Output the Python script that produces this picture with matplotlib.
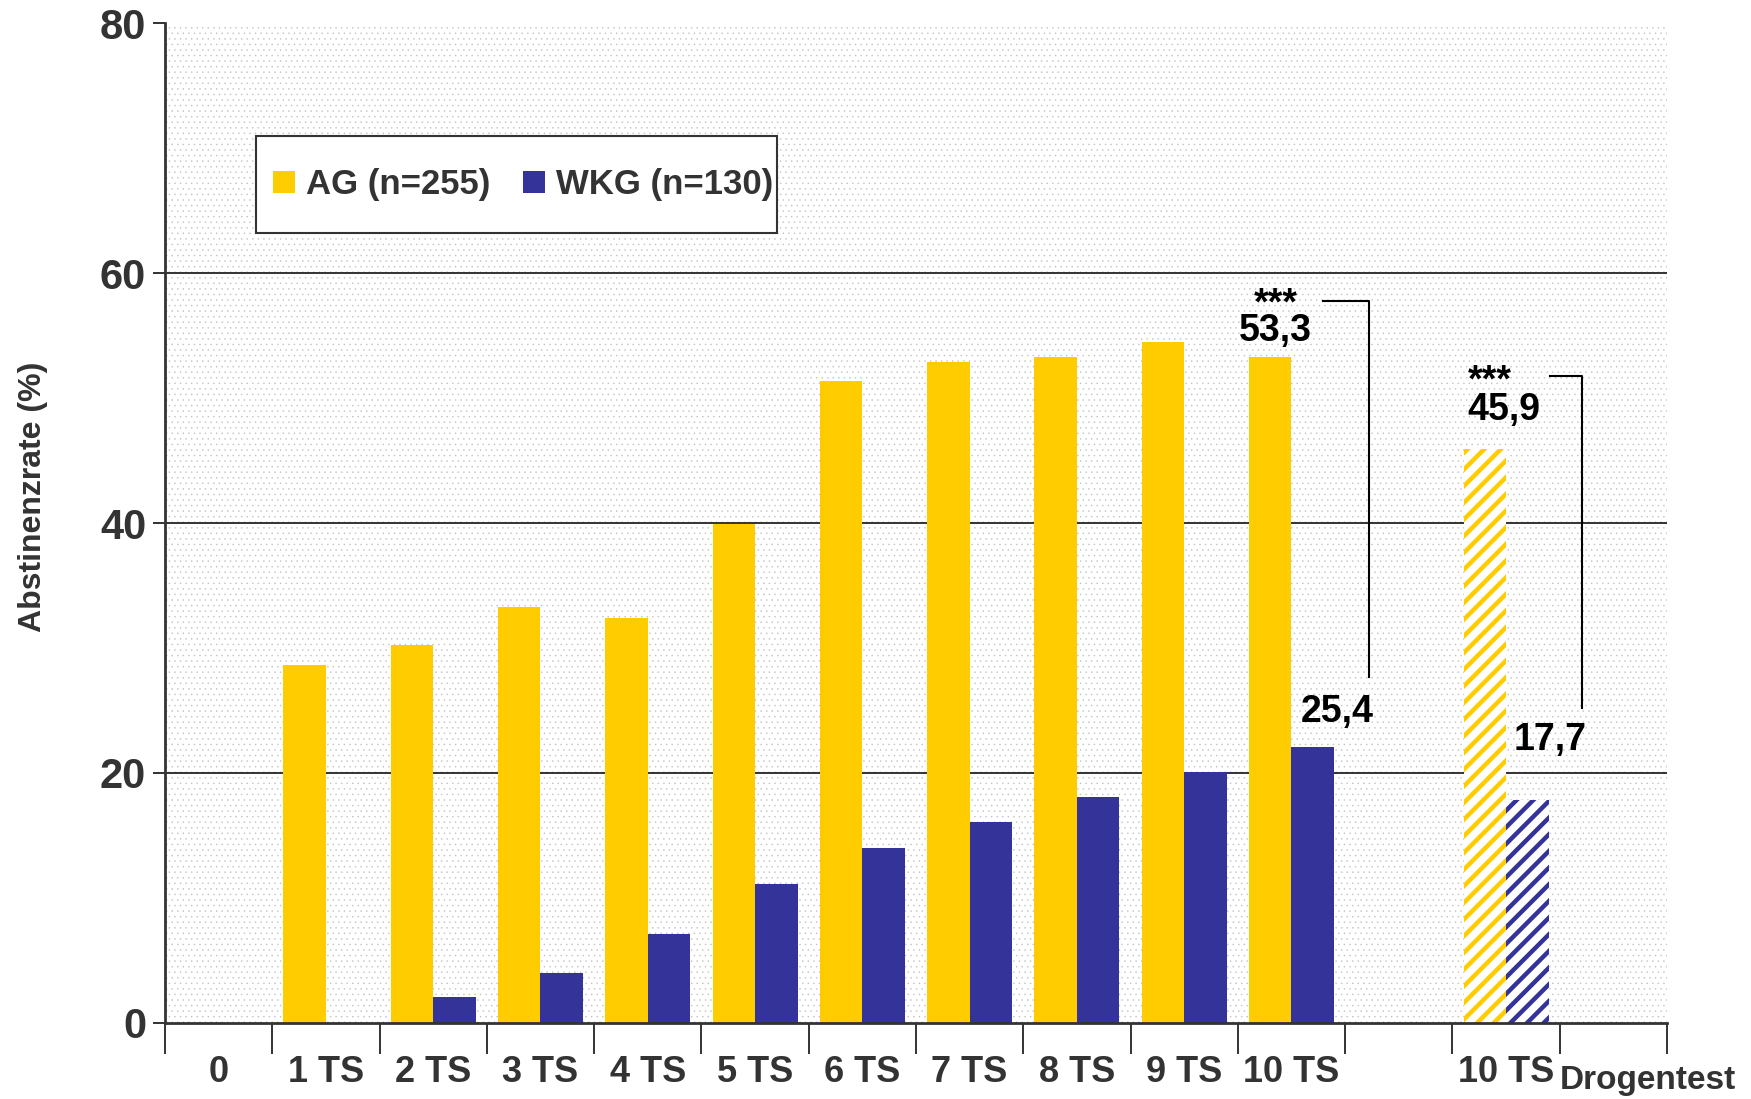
# -*- coding = utf-8 -*-
# Abstinenzrate AG vs. WKG nach Therapiesitzungen

import matplotlib.pyplot as plt
from matplotlib.patches import Patch, Rectangle

plt.rcParams['font.family'] = ['Liberation Sans', 'DejaVu Sans']
plt.rcParams['font.weight'] = 'bold'

# %% Daten

tick_labels = ['0', '1 TS', '2 TS', '3 TS', '4 TS', '5 TS', '6 TS', '7 TS',
               '8 TS', '9 TS', '10 TS', '', '10 TS', '']
sessions = [1, 2, 3, 4, 5, 6, 7, 8, 9, 10]
ag = [28.6, 30.2, 33.3, 32.4, 39.9, 51.4, 52.9, 53.3, 54.5, 53.3]
wkg = [0.0, 2.1, 4.0, 7.1, 11.1, 14.0, 16.1, 18.1, 20.1, 22.1]

# Drogentest nach 10 TS
drug_pos = 12
ag_drug = 45.9
wkg_drug = 17.8

legend_labels = ['AG (n=255)', 'WKG (n=130)']
yellow = '#FFCC00'
blue = '#333399'
dark = '#333333'

# %% Figur

fig = plt.figure(figsize=(17.51, 10.99), dpi=100)
ax = fig.add_axes([0.0942, 0.0692, 0.8578, 0.9098])

# gepunkteter Hintergrund
plt.rcParams['hatch.linewidth'] = 0.3
bg = Rectangle((0, 0), 1, 1, transform=ax.transAxes, facecolor='white',
               edgecolor='#c0c0c0', hatch='...', lw=0, zorder=0)
if hasattr(bg, 'set_hatch_linewidth'):
    bg.set_hatch_linewidth(0.3)
ax.add_patch(bg)

for y in [20, 40, 60]:
    ax.axhline(y, color=dark, lw=1.4, zorder=1)

w = 0.396
off = 0.198
ax.bar([s - off for s in sessions], ag, width=w, color=yellow, zorder=2)
ax.bar([s + off for s in sessions], wkg, width=w, color=blue, zorder=2)

plt.rcParams['hatch.linewidth'] = 3.2
hb = ax.bar([drug_pos - off, drug_pos + off], [ag_drug, wkg_drug], width=w,
            facecolor='white', edgecolor=[yellow, blue], hatch='//', lw=0,
            zorder=2)
for p in hb:
    if hasattr(p, 'set_hatch_linewidth'):
        p.set_hatch_linewidth(3.2)

# Werte und Signifikanz (Sterne + Wert in einem Text)
txt = dict(fontsize=27, fontweight='bold', color='black')
ax.text(9.85, 53.9, '***\n53,3', ha='center', va='bottom', linespacing=0.68, **txt)
ax.text(10.43, 24.9, '25,4', ha='center', va='center', **txt)
ax.plot([10.29, 10.72, 10.72], [57.8, 57.8, 27.7], color='black', lw=1.5, zorder=3)

ax.text(11.64, 47.6, '***\n45,9', ha='left', va='bottom', multialignment='left',
        linespacing=0.72, **txt)
ax.text(12.41, 22.6, '17,7', ha='center', va='center', **txt)
ax.plot([12.41, 12.71, 12.71], [51.8, 51.8, 25.2], color='black', lw=1.5, zorder=3)

# Achsen
ax.set_xlim(-0.5, 13.5)
ax.set_ylim(0, 80)
ax.set_yticks([0, 20, 40, 60, 80])
ax.set_yticklabels(['0', '20', '40', '60', '80'], fontsize=30, color=dark)
ax.set_xticks([i - 0.5 for i in range(15)])
ax.set_xticklabels([])
ax.set_xticks(list(range(14)), minor=True)
ax.set_xticklabels(tick_labels, minor=True, fontsize=26, color=dark)
ax.tick_params(axis='x', which='major', length=22, width=1.4, color=dark)
ax.tick_params(axis='x', which='minor', length=0, pad=23)
ax.tick_params(axis='y', length=8.5, width=1.4, color=dark, pad=5)
ax.text(12.5, -0.058, 'Drogentest', transform=ax.get_xaxis_transform(),
        fontsize=24, fontweight='bold', color=dark, ha='left', va='center')

for s in ['top', 'right']:
    ax.spines[s].set_visible(False)
for s in ['left', 'bottom']:
    ax.spines[s].set_color(dark)
    ax.spines[s].set_linewidth(2)

ax.set_ylabel('Abstinenzrate (%)', fontsize=23, fontweight='bold', color=dark)
ax.yaxis.set_label_coords(-0.078, 0.526)

# Legende mit eigenem Rahmen
frame = Rectangle((0.0606, 0.790), 0.3469, 0.097, transform=ax.transAxes,
                  facecolor='white', edgecolor=dark, lw=1.5, zorder=4)
ax.add_patch(frame)
handles = [Patch(facecolor=yellow), Patch(facecolor=blue)]
leg = ax.legend(handles, legend_labels, loc='center left',
                bbox_to_anchor=(0.0722, 0.8385), ncol=2, fontsize=25,
                frameon=False, handlelength=0.62, handleheight=0.62,
                handletextpad=0.32, columnspacing=0.95, borderpad=0,
                borderaxespad=0)
leg.set_zorder(5)
for t in leg.get_texts():
    t.set_color(dark)

fig.savefig('out.png', dpi=100)
